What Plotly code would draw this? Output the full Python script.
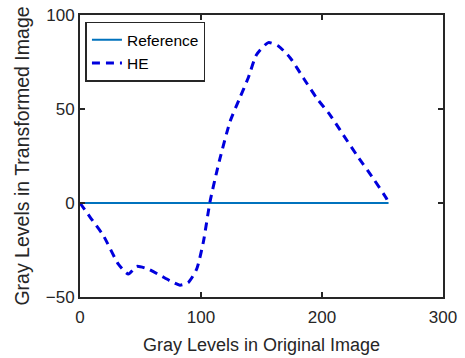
import plotly.graph_objects as go

ref_x = [0, 255]
ref_y = [0, 0]

he_x = [0, 8.3, 19.3, 31.7, 40, 46.8, 56.5, 66, 74.4, 82.6, 89.5, 96.4, 101.9, 107.4, 113,
        115.7, 124, 132, 139, 146, 155.6, 163.9, 173.6, 184.6, 195.6, 206.6, 217.6, 228.7,
        242.4, 253.4, 255]
he_y = [0, -7.5, -17.3, -32.5, -37.8, -33.7, -35.2, -38.4, -41.4, -43.7, -42.3, -35.2, -20.9,
        0.5, 16.6, 23.7, 43.3, 55.8, 66.5, 79, 85.3, 83.5, 77.3, 66.5, 55.8, 46.9, 36.2,
        25.5, 13, 2.3, 0]

font_family = "Liberation Sans, Arial, sans-serif"

fig = go.Figure()
fig.add_trace(go.Scatter(x=ref_x, y=ref_y, mode="lines", name="Reference", legendgroup="a",
                         line=dict(color="#0072BD", width=2)))
fig.add_trace(go.Scatter(x=he_x, y=he_y, mode="lines", name="HE", legendgroup="b",
                         line=dict(color="#0000DD", width=3, dash="8px,6px", shape="spline", smoothing=0.6)))

axis_common = dict(showgrid=False, zeroline=False, showline=True, linecolor="#262626",
                   linewidth=2, mirror="ticks", ticks="inside", ticklen=5, tickwidth=1.5,
                   tickcolor="#262626", automargin=False,
                   tickfont=dict(family=font_family, size=17, color="#262626"))

fig.update_layout(
    width=465, height=358,
    margin=dict(l=80, r=22, t=15, b=61),
    paper_bgcolor="white", plot_bgcolor="white",
    font=dict(family=font_family, color="#262626"),
    xaxis=dict(range=[0, 300], tickvals=[0, 100, 200, 300], ticklabelstandoff=4,
               title=dict(text="Gray Levels in Original Image", font=dict(size=18), standoff=12),
               **axis_common),
    yaxis=dict(range=[-50, 100], tickvals=[-50, 0, 50, 100],
               title=dict(text="Gray Levels in Transformed Image", font=dict(size=19.5), standoff=11),
               **axis_common),
    legend=dict(x=0.015, y=0.976, xanchor="left", yanchor="top",
                bordercolor="#262626", borderwidth=1.5, bgcolor="white",
                font=dict(family=font_family, size=15.5, color="#000000"),
                tracegroupgap=0, itemwidth=30),
    showlegend=True,
)

fig.write_html("out.html")
